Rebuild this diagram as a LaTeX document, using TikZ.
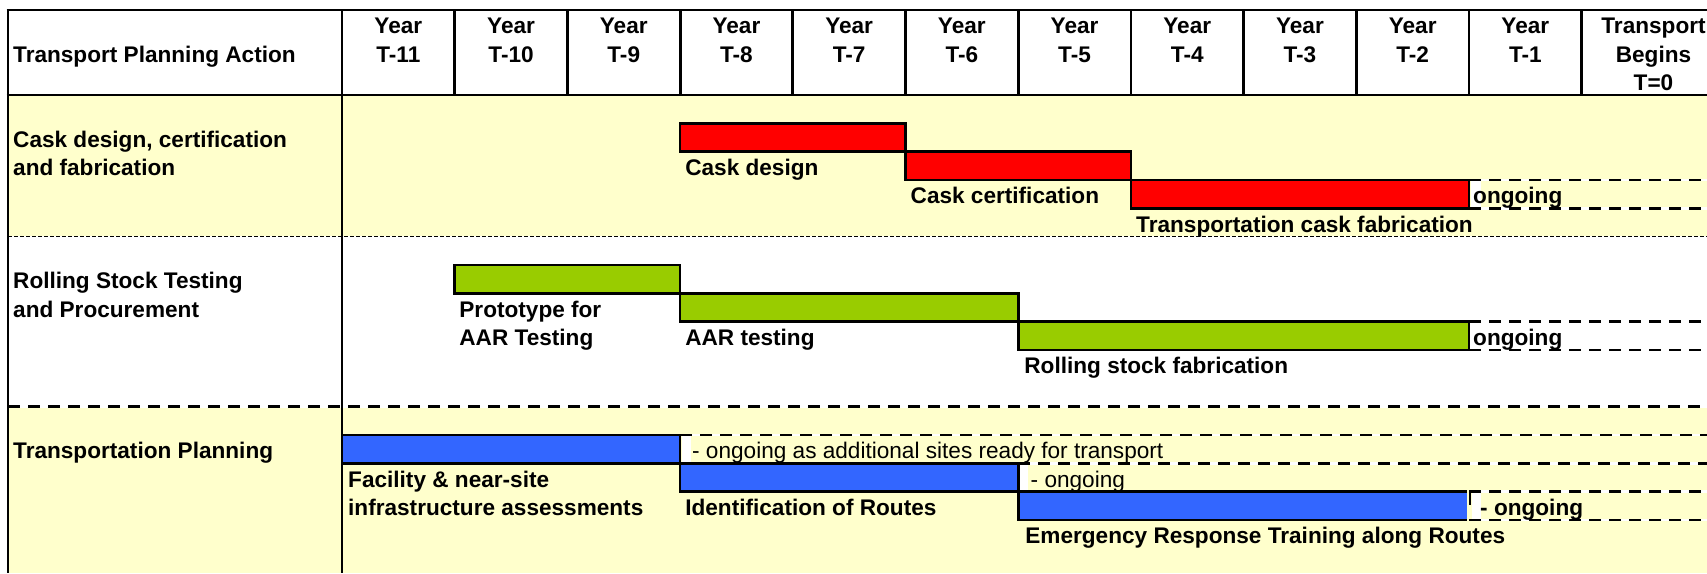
\documentclass[tikz,border=0pt]{standalone}
\usepackage{fontspec}
\setmainfont{Liberation Sans}
\definecolor{bgyellow}{HTML}{FFFFCC}
\definecolor{cred}{HTML}{FF0000}
\definecolor{cgreen}{HTML}{99CC00}
\definecolor{cblue}{HTML}{3366FF}
\newcommand\fsz{\fontsize{22.6pt}{28.33pt}\selectfont}
\tikzset{
  lbl/.style={anchor=base west, inner sep=0pt, font=\bfseries\fsz},
  lblr/.style={anchor=base west, inner sep=0pt, font=\fsz},
  hdr/.style={anchor=base, inner sep=0pt, font=\bfseries\fsz},
  gridline/.style={line width=2.8pt, black},
  barbox/.style={draw=black, line width=2.6pt},
  ongoback/.style={line width=2.5pt, white},
  ongo/.style={line width=2.5pt, black, dash pattern=on 12pt off 8pt},
  finedash/.style={line width=1.6pt, black, dash pattern=on 4pt off 2pt},
  sectdash/.style={line width=2.5pt, black, dash pattern=on 12pt off 8pt}
}
\begin{document}
\begin{tikzpicture}[x=1pt,y=-1pt]
\useasboundingbox (0,0) rectangle (1707,573);
% backgrounds
\fill[white] (0,0) rectangle (1707,573);
\fill[bgyellow] (8,95) rectangle (1707,236.67);
\fill[bgyellow] (8,406.67) rectangle (1707,573);
% red bars
\draw[barbox, fill=cred] (680.1,123.33) rectangle (905.5,151.67);
\draw[barbox, fill=cred] (905.5,151.67) rectangle (1130.9,180);
\draw[barbox, fill=cred] (1130.9,180) rectangle (1469,208.33);
% green bars
\draw[barbox, fill=cgreen] (454.7,265) rectangle (680.1,293.33);
\draw[barbox, fill=cgreen] (680.1,293.33) rectangle (1018.2,321.67);
\draw[barbox, fill=cgreen] (1018.2,321.67) rectangle (1469,350);
% blue bars
\draw[barbox, fill=cblue] (342,435) rectangle (680.1,463.33);
\draw[barbox, fill=cblue] (680.1,463.33) rectangle (1018.2,491.67);
\fill[cblue] (1018.2,491.67) rectangle (1467,520);
\draw[barbox] (1467,491.67) -- (1018.2,491.67) -- (1018.2,520) -- (1467,520);
\draw[line width=2.6pt] (1470,491.67) -- (1470,505);
% white gaps after bars
\fill[white] (1470.5,181.3) rectangle (1481,207);
\fill[white] (1470.5,323) rectangle (1481,348.7);
\fill[white] (681.5,436.3) rectangle (691,462);
\fill[white] (1019.6,464.6) rectangle (1028,490.4);
\fill[white] (1471.5,493) rectangle (1481,518.7);
% dashed ongoing strips
\foreach \xa/\yy in {1469/180, 1469/208.33, 1469/321.67, 1469/350, 680.1/435, 1018.2/463.33, 1469/491.67, 1469/520}{
  \draw[ongoback] (\xa,\yy) -- (1707,\yy);
  \draw[ongo] (\xa,\yy) -- (1707,\yy);
}
% section separators
\draw[white, line width=1.6pt] (8,236.67) -- (1707,236.67);
\draw[finedash] (8,236.67) -- (1707,236.67);
\draw[white, line width=2.5pt] (8,406.67) -- (1707,406.67);
\draw[sectdash] (8,406.67) -- (1707,406.67);
% grid
\draw[gridline] (6.6,10) -- (1707,10);
\draw[gridline] (6.6,95) -- (1707,95);
\draw[gridline] (8,10) -- (8,573);
\draw[gridline] (342,10) -- (342,573);
\foreach \cc in {454.7,567.4,680.1,792.8,905.5,1018.2,1130.9,1243.6,1356.3,1469,1581.7}{
  \draw[gridline] (\cc,10) -- (\cc,95);
}
% header texts
\node[lbl] (hA) at (13,62) {Transport Planning Action};
\foreach \i/\x in {11/398.35,10/511.05,9/623.75,8/736.45,7/849.15,6/961.85,5/1074.55,4/1187.25,3/1299.95,2/1412.65,1/1525.35}{
  \node[hdr] (hy\i) at (\x,33.3) {Year};
  \node[hdr] (ht\i) at (\x,62) {T-\i};
}
\node[hdr] (h0a) at (1653.5,33.3) {Transport};
\node[hdr] (h0b) at (1653.5,62) {Begins};
\node[hdr] (h0c) at (1653.5,90.3) {T=0};
% row 1
\node[lbl] (r1a) at (13,147.2) {Cask design, certification};
\node[lbl] (r1b) at (13,175.5) {and fabrication};
\node[lbl] (cd) at (685.1,175.5) {Cask design};
\node[lbl] (cc) at (910.5,203.8) {Cask certification};
\node[lbl] (cf) at (1136,232.1) {Transportation cask fabrication};
\node[lbl] (co) at (1473,203.8) {ongoing};
% row 2
\node[lbl] (r2a) at (13,288.8) {Rolling Stock Testing};
\node[lbl] (r2b) at (13,317.1) {and Procurement};
\node[lbl] (pt1) at (459.2,317.1) {Prototype for};
\node[lbl] (pt2) at (459.2,345.4) {AAR Testing};
\node[lbl] (aar) at (685.1,345.4) {AAR testing};
\node[lbl] (rsf) at (1024.2,373.7) {Rolling stock fabrication};
\node[lbl] (ro) at (1473,345.4) {ongoing};
% row 3
\node[lbl] (r3a) at (13,458.8) {Transportation Planning};
\node[lbl] (fa1) at (348,487.1) {Facility \& near-site};
\node[lbl] (fa2) at (348,515.4) {infrastructure assessments};
\node[lbl] (idr) at (685.1,515.4) {Identification of Routes};
\node[lbl] (ert) at (1025.2,543.7) {Emergency Response Training along Routes};
\node[lblr] (o1) at (692,458.8) {- ongoing as additional sites ready for transport};
\node[lblr] (o2) at (1030.5,487.1) {- ongoing};
\node[lbl] (o3) at (1480,515.4) {- ongoing};
\end{tikzpicture}
\end{document}
